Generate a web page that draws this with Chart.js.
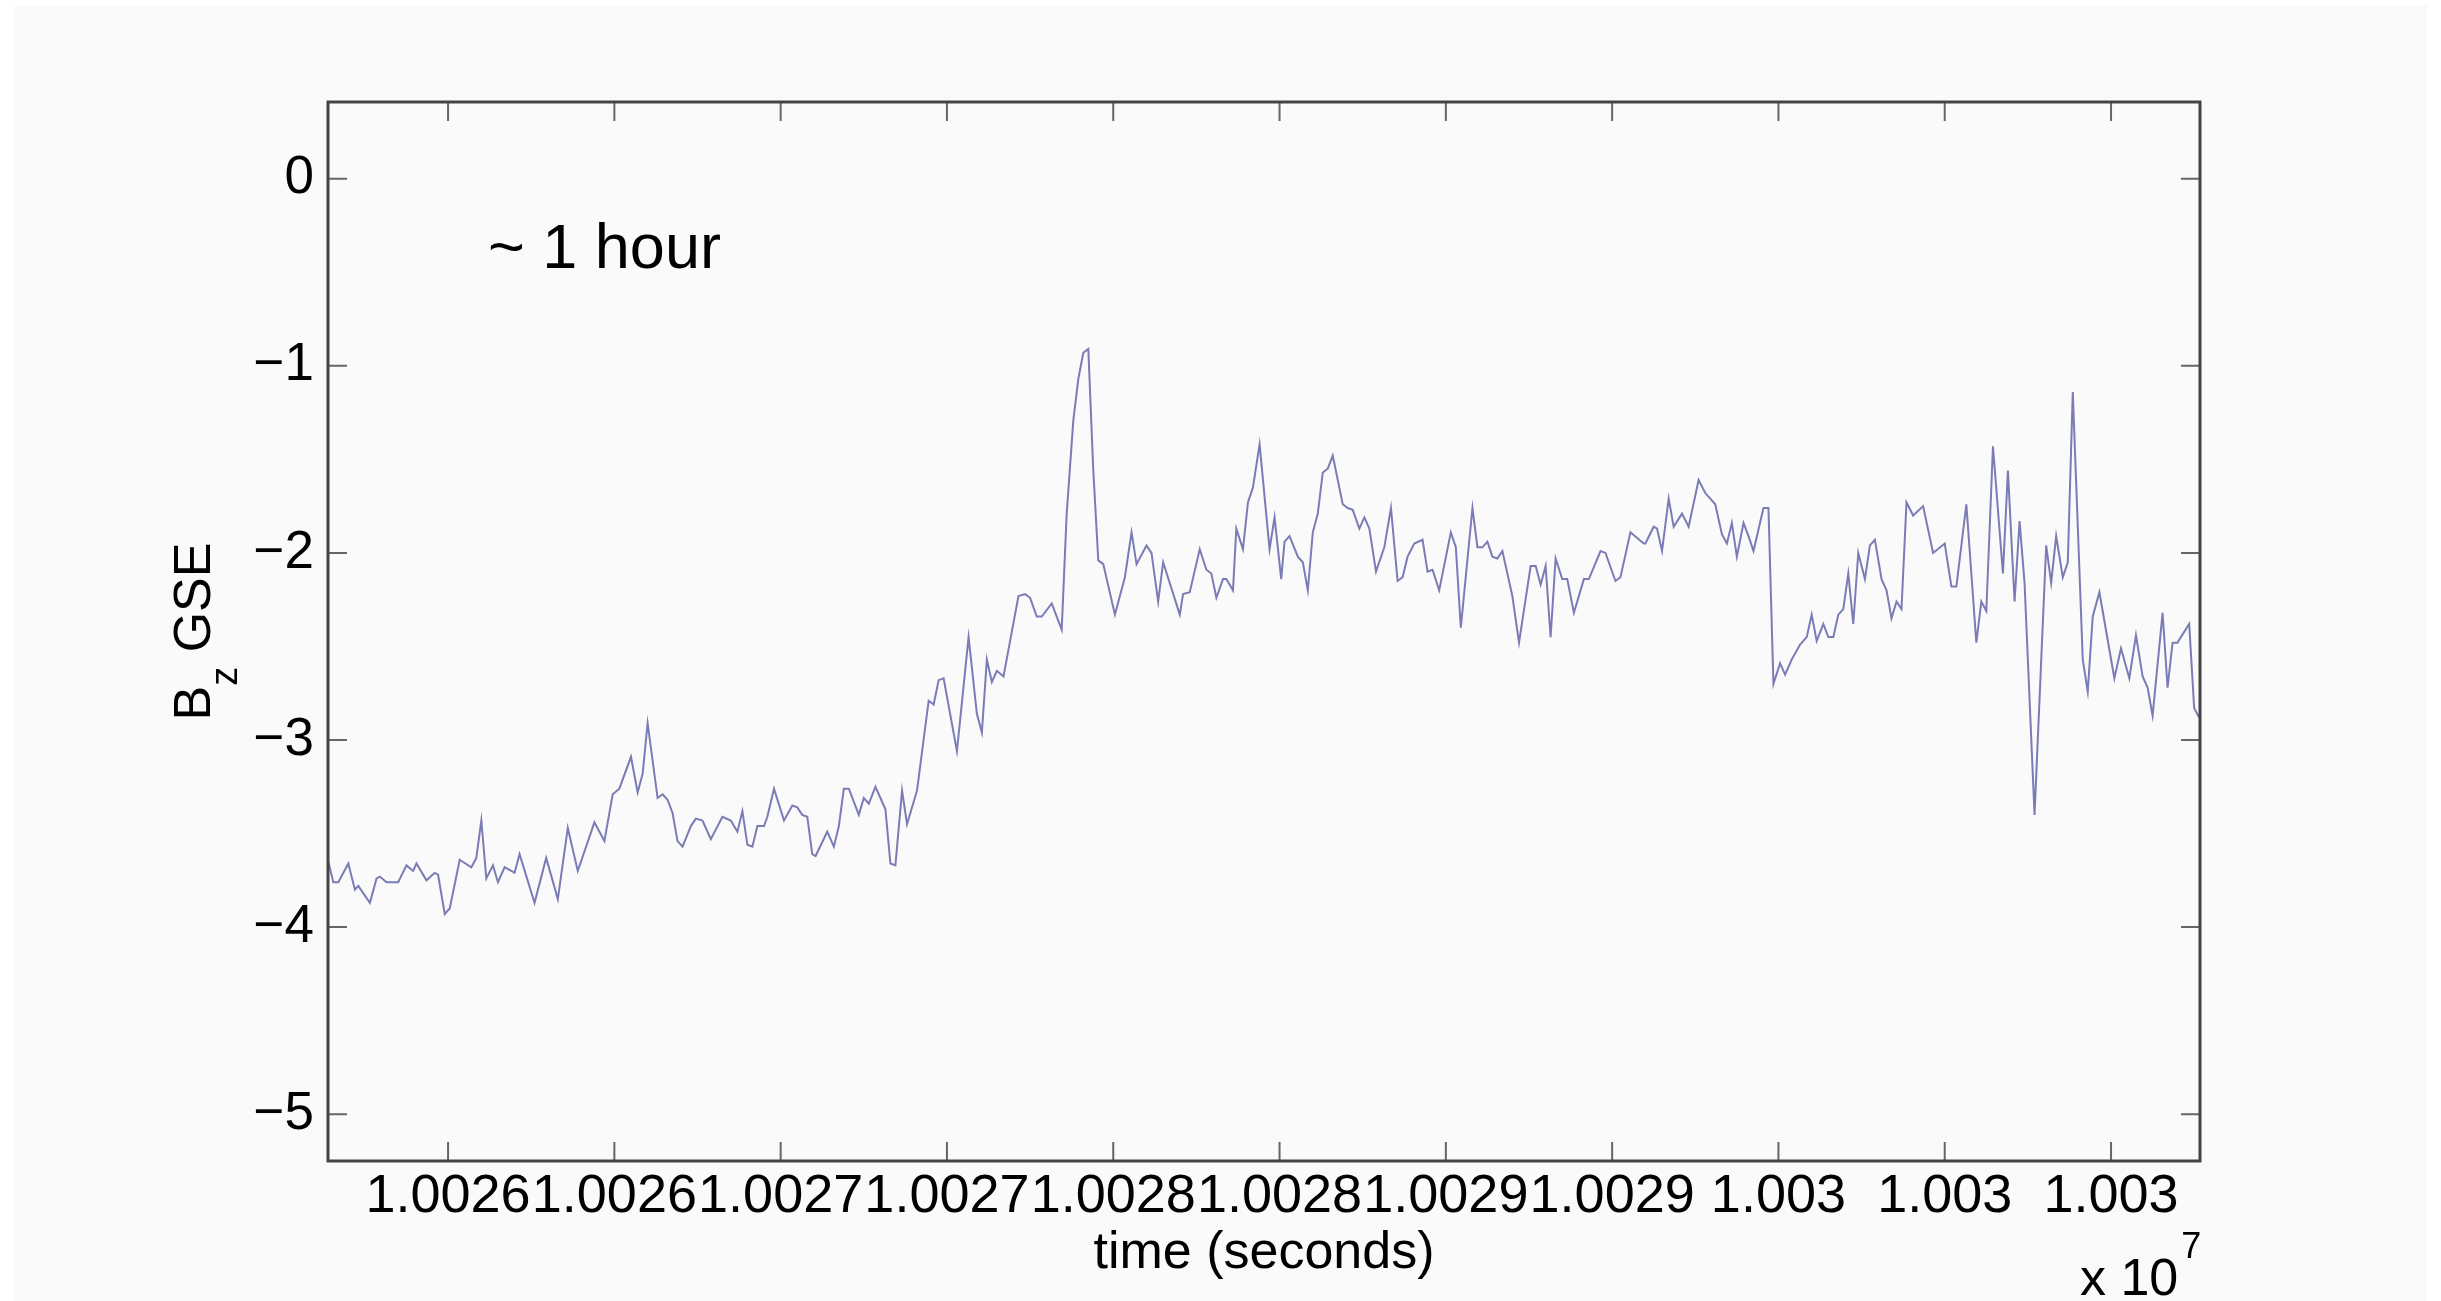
<!DOCTYPE html>
<html>
<head>
<meta charset="utf-8">
<title>Bz GSE</title>
<script src="https://cdn.jsdelivr.net/npm/chart.js@4.4.1/dist/chart.umd.min.js"></script>
<style>
  html, body { margin: 0; padding: 0; background: #ffffff; }
  canvas { display: block; }
</style>
</head>
<body>
<canvas id="grafico" width="2441" height="1301"></canvas>
<script>
// ticks del eje x (en unidades de tick) y sus etiquetas tal como salen en la figura
const xTickValues = [0, 1, 2, 3, 4, 5, 6, 7, 8, 9, 10];
const xTickLabels = ['1.0026', '1.0026', '1.0027', '1.0027', '1.0028', '1.0028',
                     '1.0029', '1.0029', '1.003', '1.003', '1.003'];
const yTickValues = [0, -1, -2, -3, -4, -5];

// serie: tiempo (unidades de tick) y Bz GSE
const times = [
  -0.72,-0.69,-0.66,-0.60,-0.56,-0.54,-0.47,-0.43,-0.41,-0.37,-0.30,-0.25,-0.21,-0.19,-0.13,-0.08,-0.06,-0.02,0.01,0.07,
  0.14,0.17,0.20,0.23,0.27,0.30,0.34,0.38,0.40,0.43,0.52,0.59,0.66,0.72,0.78,0.88,0.94,0.99,1.03,1.10,1.14,1.17,1.20,
  1.26,1.29,1.32,1.35,1.38,1.41,1.46,1.49,1.53,1.58,1.65,1.70,1.74,1.77,1.80,1.83,1.86,1.90,1.92,1.96,
  2.02,2.07,2.10,2.13,2.16,2.19,2.21,2.28,2.32,2.35,2.38,2.41,2.47,2.50,2.53,2.57,2.62,2.63,2.66,2.69,
  2.73,2.76,2.82,2.89,2.92,2.95,2.98,3.06,3.13,
  3.18,3.21,3.24,3.27,3.30,3.34,3.43,3.47,3.50,3.54,3.57,3.63,3.69,3.72,3.76,3.79,3.82,3.85,3.88,3.91,
  3.94,4.01,4.07,4.11,4.14,4.20,4.23,4.27,4.30,4.40,4.42,4.46,4.52,4.56,4.59,4.62,4.66,4.68,4.72,4.74,
  4.78,4.81,4.84,4.88,4.94,4.97,5.01,5.03,5.06,
  5.11,5.14,5.17,5.20,5.23,5.26,5.29,5.32,5.38,5.41,5.44,5.48,5.51,5.54,5.58,5.63,5.67,5.71,5.74,5.77,
  5.81,5.86,5.89,5.92,5.96,6.03,6.06,6.09,6.16,6.19,6.22,6.25,6.28,6.31,6.34,6.40,6.44,6.51,6.54,6.57,
  6.60,6.63,6.66,6.70,6.73,6.77,6.83,6.86,6.93,6.96,
  7.02,7.05,7.11,7.19,7.20,7.25,7.27,7.30,7.34,7.37,7.42,7.46,7.52,7.56,7.59,7.62,7.66,7.69,7.72,7.75,
  7.79,7.82,7.85,7.91,7.94,7.97,8.01,8.04,8.08,8.13,8.17,8.20,8.23,8.27,8.30,8.33,8.36,8.39,8.42,8.45,
  8.48,8.52,8.55,8.58,8.62,8.65,8.68,8.71,8.74,8.77,8.81,8.87,
  8.93,9.00,9.04,9.07,9.13,9.19,9.22,9.25,9.29,9.35,9.38,9.42,9.45,9.48,9.54,9.61,9.64,9.67,9.71,9.74,
  9.77,9.83,9.86,9.89,9.93,10.02,10.06,10.11,10.15,10.19,10.22,10.25,10.31,10.34,10.37,10.40,10.42,10.47,10.50,10.53
];
const bz = [
  -3.65,-3.76,-3.76,-3.66,-3.80,-3.78,-3.87,-3.74,-3.73,-3.76,-3.76,-3.67,-3.70,-3.66,-3.75,-3.71,-3.72,-3.93,-3.90,-3.64,
  -3.68,-3.63,-3.43,-3.74,-3.67,-3.76,-3.68,-3.70,-3.71,-3.61,-3.87,-3.63,-3.85,-3.47,-3.70,-3.44,-3.54,-3.29,-3.26,-3.09,-3.28,-3.18,-2.91,
  -3.31,-3.29,-3.32,-3.39,-3.54,-3.57,-3.46,-3.42,-3.43,-3.53,-3.41,-3.43,-3.49,-3.38,-3.56,-3.57,-3.46,-3.46,-3.41,-3.26,
  -3.43,-3.35,-3.36,-3.40,-3.41,-3.61,-3.62,-3.49,-3.57,-3.46,-3.26,-3.26,-3.40,-3.31,-3.34,-3.25,-3.35,-3.37,-3.66,-3.67,
  -3.27,-3.45,-3.27,-2.79,-2.81,-2.68,-2.67,-3.06,-2.45,
  -2.86,-2.96,-2.57,-2.69,-2.63,-2.66,-2.23,-2.22,-2.24,-2.34,-2.34,-2.27,-2.41,-1.79,-1.29,-1.07,-0.93,-0.91,-1.56,-2.04,
  -2.06,-2.33,-2.13,-1.89,-2.06,-1.96,-2.00,-2.26,-2.05,-2.33,-2.22,-2.21,-1.98,-2.09,-2.11,-2.24,-2.14,-2.14,-2.20,-1.87,
  -1.98,-1.73,-1.65,-1.42,-1.98,-1.81,-2.14,-1.94,-1.91,
  -2.02,-2.05,-2.20,-1.89,-1.79,-1.57,-1.55,-1.48,-1.74,-1.76,-1.77,-1.87,-1.81,-1.87,-2.10,-1.97,-1.76,-2.15,-2.13,-2.02,
  -1.95,-1.93,-2.10,-2.09,-2.20,-1.89,-1.97,-2.40,-1.76,-1.97,-1.97,-1.94,-2.02,-2.03,-1.99,-2.23,-2.48,-2.07,-2.07,-2.17,
  -2.07,-2.45,-2.03,-2.14,-2.14,-2.32,-2.14,-2.14,-1.99,-2.00,
  -2.15,-2.13,-1.89,-1.95,-1.95,-1.86,-1.87,-1.99,-1.71,-1.86,-1.79,-1.86,-1.61,-1.68,-1.71,-1.74,-1.90,-1.95,-1.84,-2.02,
  -1.84,-1.91,-1.99,-1.76,-1.76,-2.70,-2.59,-2.65,-2.57,-2.49,-2.45,-2.33,-2.47,-2.38,-2.45,-2.45,-2.33,-2.30,-2.11,-2.38,
  -2.00,-2.14,-1.96,-1.93,-2.14,-2.20,-2.35,-2.26,-2.30,-1.73,-1.80,-1.75,
  -2.00,-1.95,-2.18,-2.18,-1.74,-2.48,-2.26,-2.31,-1.43,-2.11,-1.56,-2.26,-1.83,-2.16,-3.40,-1.96,-2.16,-1.91,-2.13,-2.05,
  -1.14,-2.57,-2.74,-2.34,-2.21,-2.67,-2.51,-2.67,-2.44,-2.66,-2.72,-2.87,-2.32,-2.72,-2.48,-2.48,-2.45,-2.38,-2.83,-2.88
];

const FONT = "'Liberation Sans', Arial, Helvetica, sans-serif";

// fondo gris, caja con ticks hacia dentro y textos al estilo Matlab
const matlabAxes = {
    id: 'matlabAxes',
    beforeDraw(chart) {
        const ctx = chart.ctx;
        ctx.save();
        ctx.fillStyle = '#ffffff';
        ctx.fillRect(0, 0, chart.width, chart.height);
        ctx.fillStyle = '#fafafa';
        ctx.fillRect(14, 5, chart.width - 28, chart.height - 5);
        ctx.restore();
    },
    afterDraw(chart) {
        const ctx = chart.ctx;
        const a = chart.chartArea;
        const x = chart.scales.x, y = chart.scales.y;
        ctx.save();

        ctx.strokeStyle = '#666666';
        ctx.lineWidth = 2;
        ctx.beginPath();
        xTickValues.forEach(v => {
            const px = x.getPixelForValue(v);
            ctx.moveTo(px, a.bottom); ctx.lineTo(px, a.bottom - 19);
            ctx.moveTo(px, a.top); ctx.lineTo(px, a.top + 19);
        });
        yTickValues.forEach(v => {
            const py = y.getPixelForValue(v);
            ctx.moveTo(a.left, py); ctx.lineTo(a.left + 19, py);
            ctx.moveTo(a.right, py); ctx.lineTo(a.right - 19, py);
        });
        ctx.stroke();

        ctx.strokeStyle = '#444444';
        ctx.lineWidth = 3;
        ctx.strokeRect(a.left, a.top, a.right - a.left, a.bottom - a.top);

        ctx.fillStyle = '#000000';
        ctx.textBaseline = 'alphabetic';

        // anotacion
        ctx.font = '63px ' + FONT;
        ctx.textAlign = 'left';
        ctx.fillText('~ 1 hour', 488, 268);

        // titulo eje x
        ctx.font = '52px ' + FONT;
        ctx.textAlign = 'center';
        ctx.fillText('time (seconds)', (a.left + a.right) / 2, 1268);

        // multiplicador x 10^7
        ctx.textAlign = 'left';
        ctx.fillText('x 10', 2080, 1295);
        const w10 = ctx.measureText('x 10').width;
        ctx.font = '36px ' + FONT;
        ctx.fillText('7', 2080 + w10 + 3, 1258);

        // titulo eje y con subindice
        ctx.translate(210, (a.top + a.bottom) / 2);
        ctx.rotate(-Math.PI / 2);
        ctx.font = '52px ' + FONT;
        const wB = ctx.measureText('B').width;
        const wRest = ctx.measureText(' GSE').width;
        ctx.font = '38px ' + FONT;
        const wz = ctx.measureText('z').width;
        let x0 = -(wB + wz + wRest) / 2;
        ctx.font = '52px ' + FONT;
        ctx.fillText('B', x0, 0);
        ctx.font = '38px ' + FONT;
        ctx.fillText('z', x0 + wB, 27);
        ctx.font = '52px ' + FONT;
        ctx.fillText(' GSE', x0 + wB + wz, 0);

        ctx.restore();
    }
};

const puntos = times.map((t, i) => ({ x: t, y: bz[i] }));

new Chart(document.getElementById('grafico').getContext('2d'), {
    type: 'line',
    data: {
        datasets: [{
            label: 'Bz GSE',
            data: puntos,
            borderColor: '#7b7bb6',
            borderWidth: 2,
            pointRadius: 0,
            tension: 0,
            fill: false
        }]
    },
    options: {
        responsive: false,
        animation: false,
        devicePixelRatio: 1,
        layout: { padding: { top: 102, right: 241, bottom: 0, left: 0 } },
        plugins: {
            legend: { display: false },
            tooltip: { enabled: false }
        },
        scales: {
            x: {
                type: 'linear',
                min: -0.722,
                max: 10.535,
                grid: { display: false, drawTicks: false },
                border: { display: false },
                afterBuildTicks: s => { s.ticks = xTickValues.map(v => ({ value: v })); },
                afterFit: s => { s.height = 140; },
                ticks: {
                    autoSkip: false,
                    maxRotation: 0,
                    minRotation: 0,
                    padding: 4,
                    color: '#000000',
                    font: { family: FONT, size: 54 },
                    callback: v => xTickLabels[xTickValues.indexOf(v)]
                }
            },
            y: {
                min: -5.25,
                max: 0.41,
                grid: { display: false, drawTicks: false },
                border: { display: false },
                afterBuildTicks: s => { s.ticks = yTickValues.map(v => ({ value: v })); },
                afterFit: s => { s.width = 328; },
                ticks: {
                    autoSkip: false,
                    padding: 14,
                    color: '#000000',
                    font: { family: FONT, size: 53 },
                    callback: v => v === 0 ? '0' : '\u2212' + Math.abs(v)
                }
            }
        }
    },
    plugins: [matlabAxes]
});
</script>
</body>
</html>
